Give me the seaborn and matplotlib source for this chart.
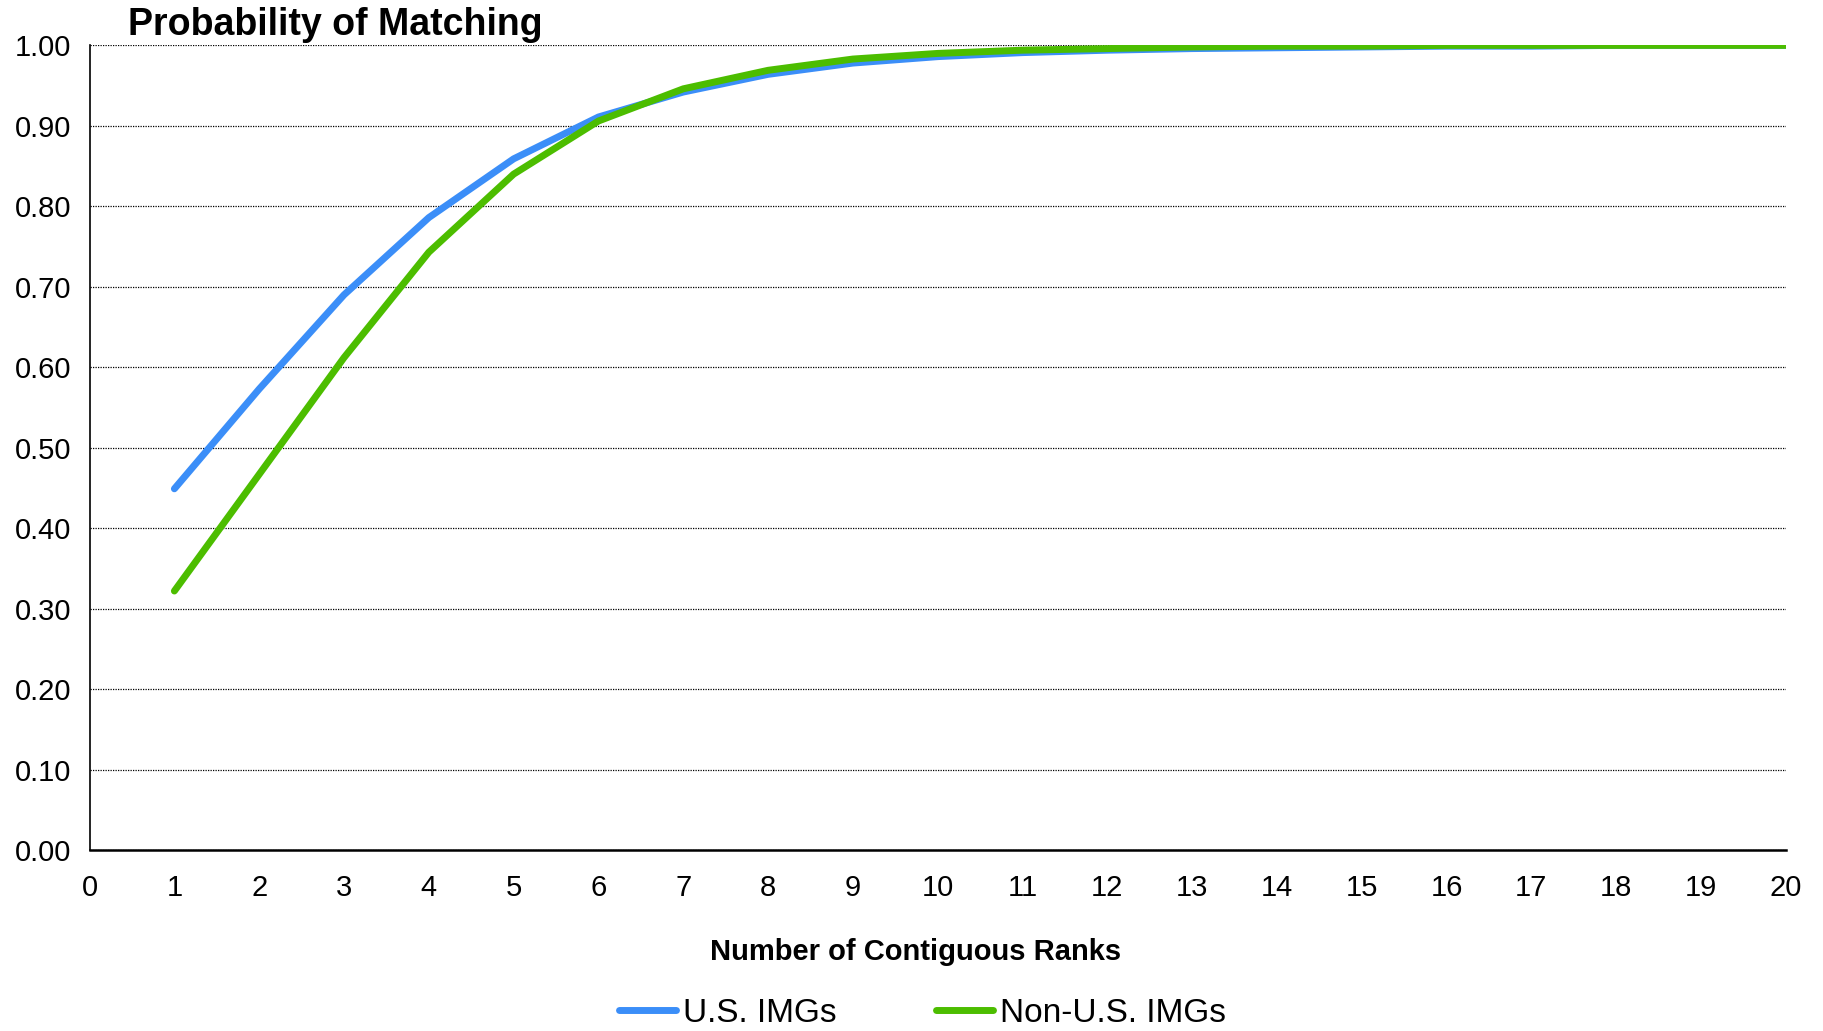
import pandas as pd
import matplotlib.pyplot as plt
import seaborn as sns
import numpy as np

ranks = list(range(1, 21))
us_imgs = [0.449, 0.573, 0.690, 0.786, 0.859, 0.911, 0.942, 0.964, 0.978, 0.986,
           0.991, 0.994, 0.996, 0.997, 0.998, 0.999, 0.999, 1.000, 1.000, 1.000]
non_us_imgs = [0.322, 0.467, 0.612, 0.743, 0.840, 0.906, 0.946, 0.969, 0.983, 0.990,
               0.994, 0.996, 0.998, 0.999, 0.999, 1.000, 1.000, 1.000, 1.000, 1.000]

df = pd.DataFrame({
    'Rank': ranks * 2,
    'Probability': us_imgs + non_us_imgs,
    'Group': ['U.S. IMGs'] * 20 + ['Non-U.S. IMGs'] * 20,
})

sns.set_style('white')
plt.rcParams['font.family'] = ['Liberation Sans', 'DejaVu Sans']
plt.rcParams['text.color'] = 'black'
plt.rcParams['axes.labelcolor'] = 'black'

fig = plt.figure(figsize=(18.24, 10.31), dpi=100)
ax = fig.add_axes([0.0491, 0.1754, 0.9300, 0.7806])

sns.lineplot(data=df, x='Rank', y='Probability', hue='Group',
             palette={'U.S. IMGs': '#3b8ef8', 'Non-U.S. IMGs': '#4cbd00'},
             linewidth=5, ax=ax, legend=True)

ax.set_xlim(0, 20)
ax.set_ylim(0, 1.0)
ax.set_xticks(range(0, 21))
ax.set_yticks(np.arange(0, 1.01, 0.1))
ax.set_yticklabels([f'{v:.2f}' for v in np.arange(0, 1.01, 0.1)])
ax.tick_params(axis='both', length=0, labelsize=21, colors='black')
ax.tick_params(axis='y', pad=13)
ax.tick_params(axis='x', pad=17)

ax.grid(axis='y', color='black', linestyle=(0, (1, 1)), linewidth=0.9)
ax.set_axisbelow(True)
for s in ['top', 'right']:
    ax.spines[s].set_visible(False)
ax.spines['left'].set_color('black')
ax.spines['left'].set_linewidth(1.2)
ax.spines['bottom'].set_color('black')
ax.spines['bottom'].set_linewidth(1.8)

ax.set_ylabel('')
ax.set_xlabel('Number of Contiguous Ranks', fontsize=21, fontweight='bold')
ax.xaxis.set_label_coords(0.487, -0.109)
fig.text(0.070, 0.9755, 'Probability of Matching', fontsize=27, fontweight='bold',
         ha='left', va='center')

leg = ax.legend(loc='center', bbox_to_anchor=(0.491, -0.203), ncol=2, frameon=False,
                fontsize=24, handlelength=1.7, handletextpad=0.2, columnspacing=3.0)
for h in leg.get_lines():
    h.set_linewidth(5)

fig.savefig('out.png', dpi=100)
